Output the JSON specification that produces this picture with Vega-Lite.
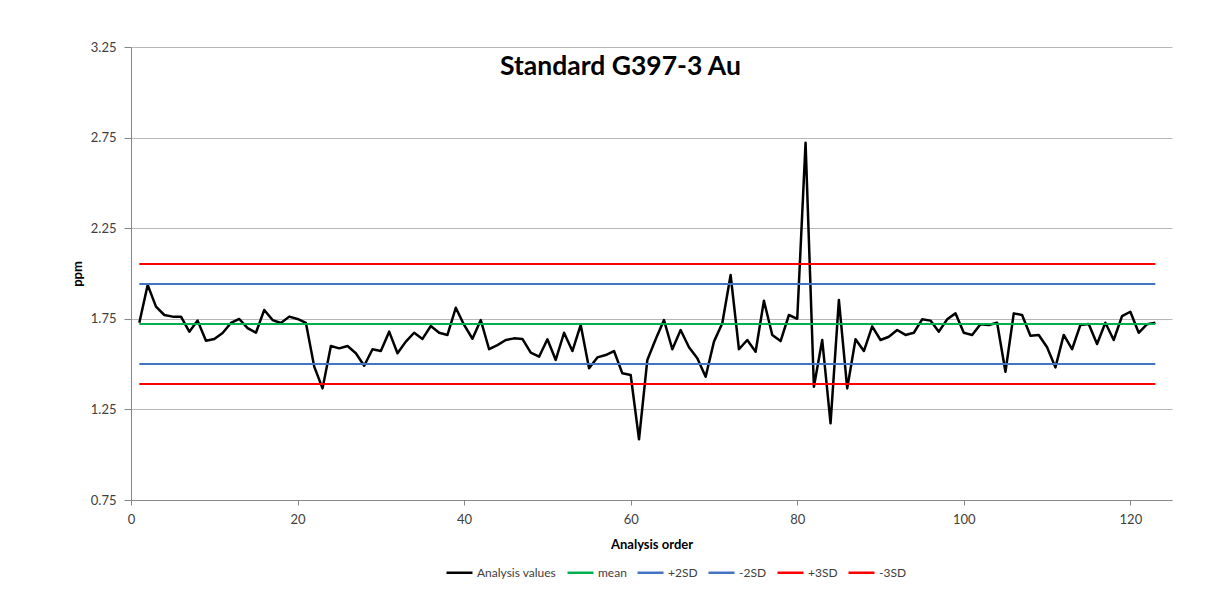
{
  "$schema": "https://vega.github.io/schema/vega-lite/v6.json",
  "width": 1041,
  "height": 453,
  "autosize": {"type": "none"},
  "padding": {"left": 131, "top": 47, "right": 43, "bottom": 96},
  "background": "white",
  "title": {
    "text": "Standard G397-3 Au",
    "anchor": "start",
    "frame": "group",
    "dx": 369,
    "dy": 27,
    "offset": -33,
    "baseline": "alphabetic",
    "font": "Lato",
    "fontSize": 26.5,
    "fontWeight": "bold",
    "color": "#000000"
  },
  "datasets": {
    "analysis": [
      {"order": 1, "ppm": 1.728, "series": "Analysis values"},
      {"order": 2, "ppm": 1.937, "series": "Analysis values"},
      {"order": 3, "ppm": 1.817, "series": "Analysis values"},
      {"order": 4, "ppm": 1.771, "series": "Analysis values"},
      {"order": 5, "ppm": 1.762, "series": "Analysis values"},
      {"order": 6, "ppm": 1.762, "series": "Analysis values"},
      {"order": 7, "ppm": 1.679, "series": "Analysis values"},
      {"order": 8, "ppm": 1.740, "series": "Analysis values"},
      {"order": 9, "ppm": 1.629, "series": "Analysis values"},
      {"order": 10, "ppm": 1.639, "series": "Analysis values"},
      {"order": 11, "ppm": 1.672, "series": "Analysis values"},
      {"order": 12, "ppm": 1.727, "series": "Analysis values"},
      {"order": 13, "ppm": 1.749, "series": "Analysis values"},
      {"order": 14, "ppm": 1.699, "series": "Analysis values"},
      {"order": 15, "ppm": 1.673, "series": "Analysis values"},
      {"order": 16, "ppm": 1.799, "series": "Analysis values"},
      {"order": 17, "ppm": 1.743, "series": "Analysis values"},
      {"order": 18, "ppm": 1.727, "series": "Analysis values"},
      {"order": 19, "ppm": 1.762, "series": "Analysis values"},
      {"order": 20, "ppm": 1.749, "series": "Analysis values"},
      {"order": 21, "ppm": 1.728, "series": "Analysis values"},
      {"order": 22, "ppm": 1.486, "series": "Analysis values"},
      {"order": 23, "ppm": 1.366, "series": "Analysis values"},
      {"order": 24, "ppm": 1.600, "series": "Analysis values"},
      {"order": 25, "ppm": 1.587, "series": "Analysis values"},
      {"order": 26, "ppm": 1.600, "series": "Analysis values"},
      {"order": 27, "ppm": 1.560, "series": "Analysis values"},
      {"order": 28, "ppm": 1.491, "series": "Analysis values"},
      {"order": 29, "ppm": 1.582, "series": "Analysis values"},
      {"order": 30, "ppm": 1.572, "series": "Analysis values"},
      {"order": 31, "ppm": 1.679, "series": "Analysis values"},
      {"order": 32, "ppm": 1.560, "series": "Analysis values"},
      {"order": 33, "ppm": 1.624, "series": "Analysis values"},
      {"order": 34, "ppm": 1.673, "series": "Analysis values"},
      {"order": 35, "ppm": 1.639, "series": "Analysis values"},
      {"order": 36, "ppm": 1.710, "series": "Analysis values"},
      {"order": 37, "ppm": 1.673, "series": "Analysis values"},
      {"order": 38, "ppm": 1.661, "series": "Analysis values"},
      {"order": 39, "ppm": 1.811, "series": "Analysis values"},
      {"order": 40, "ppm": 1.716, "series": "Analysis values"},
      {"order": 41, "ppm": 1.640, "series": "Analysis values"},
      {"order": 42, "ppm": 1.743, "series": "Analysis values"},
      {"order": 43, "ppm": 1.582, "series": "Analysis values"},
      {"order": 44, "ppm": 1.605, "series": "Analysis values"},
      {"order": 45, "ppm": 1.633, "series": "Analysis values"},
      {"order": 46, "ppm": 1.642, "series": "Analysis values"},
      {"order": 47, "ppm": 1.639, "series": "Analysis values"},
      {"order": 48, "ppm": 1.563, "series": "Analysis values"},
      {"order": 49, "ppm": 1.541, "series": "Analysis values"},
      {"order": 50, "ppm": 1.637, "series": "Analysis values"},
      {"order": 51, "ppm": 1.523, "series": "Analysis values"},
      {"order": 52, "ppm": 1.673, "series": "Analysis values"},
      {"order": 53, "ppm": 1.572, "series": "Analysis values"},
      {"order": 54, "ppm": 1.716, "series": "Analysis values"},
      {"order": 55, "ppm": 1.477, "series": "Analysis values"},
      {"order": 56, "ppm": 1.537, "series": "Analysis values"},
      {"order": 57, "ppm": 1.550, "series": "Analysis values"},
      {"order": 58, "ppm": 1.572, "series": "Analysis values"},
      {"order": 59, "ppm": 1.449, "series": "Analysis values"},
      {"order": 60, "ppm": 1.440, "series": "Analysis values"},
      {"order": 61, "ppm": 1.085, "series": "Analysis values"},
      {"order": 62, "ppm": 1.523, "series": "Analysis values"},
      {"order": 63, "ppm": 1.637, "series": "Analysis values"},
      {"order": 64, "ppm": 1.743, "series": "Analysis values"},
      {"order": 65, "ppm": 1.582, "series": "Analysis values"},
      {"order": 66, "ppm": 1.688, "series": "Analysis values"},
      {"order": 67, "ppm": 1.593, "series": "Analysis values"},
      {"order": 68, "ppm": 1.532, "series": "Analysis values"},
      {"order": 69, "ppm": 1.430, "series": "Analysis values"},
      {"order": 70, "ppm": 1.624, "series": "Analysis values"},
      {"order": 71, "ppm": 1.725, "series": "Analysis values"},
      {"order": 72, "ppm": 1.992, "series": "Analysis values"},
      {"order": 73, "ppm": 1.582, "series": "Analysis values"},
      {"order": 74, "ppm": 1.633, "series": "Analysis values"},
      {"order": 75, "ppm": 1.568, "series": "Analysis values"},
      {"order": 76, "ppm": 1.850, "series": "Analysis values"},
      {"order": 77, "ppm": 1.661, "series": "Analysis values"},
      {"order": 78, "ppm": 1.627, "series": "Analysis values"},
      {"order": 79, "ppm": 1.771, "series": "Analysis values"},
      {"order": 80, "ppm": 1.750, "series": "Analysis values"},
      {"order": 81, "ppm": 2.722, "series": "Analysis values"},
      {"order": 82, "ppm": 1.375, "series": "Analysis values"},
      {"order": 83, "ppm": 1.633, "series": "Analysis values"},
      {"order": 84, "ppm": 1.173, "series": "Analysis values"},
      {"order": 85, "ppm": 1.854, "series": "Analysis values"},
      {"order": 86, "ppm": 1.366, "series": "Analysis values"},
      {"order": 87, "ppm": 1.637, "series": "Analysis values"},
      {"order": 88, "ppm": 1.572, "series": "Analysis values"},
      {"order": 89, "ppm": 1.708, "series": "Analysis values"},
      {"order": 90, "ppm": 1.633, "series": "Analysis values"},
      {"order": 91, "ppm": 1.651, "series": "Analysis values"},
      {"order": 92, "ppm": 1.688, "series": "Analysis values"},
      {"order": 93, "ppm": 1.661, "series": "Analysis values"},
      {"order": 94, "ppm": 1.673, "series": "Analysis values"},
      {"order": 95, "ppm": 1.747, "series": "Analysis values"},
      {"order": 96, "ppm": 1.740, "series": "Analysis values"},
      {"order": 97, "ppm": 1.679, "series": "Analysis values"},
      {"order": 98, "ppm": 1.747, "series": "Analysis values"},
      {"order": 99, "ppm": 1.780, "series": "Analysis values"},
      {"order": 100, "ppm": 1.673, "series": "Analysis values"},
      {"order": 101, "ppm": 1.661, "series": "Analysis values"},
      {"order": 102, "ppm": 1.720, "series": "Analysis values"},
      {"order": 103, "ppm": 1.716, "series": "Analysis values"},
      {"order": 104, "ppm": 1.728, "series": "Analysis values"},
      {"order": 105, "ppm": 1.458, "series": "Analysis values"},
      {"order": 106, "ppm": 1.780, "series": "Analysis values"},
      {"order": 107, "ppm": 1.771, "series": "Analysis values"},
      {"order": 108, "ppm": 1.656, "series": "Analysis values"},
      {"order": 109, "ppm": 1.661, "series": "Analysis values"},
      {"order": 110, "ppm": 1.593, "series": "Analysis values"},
      {"order": 111, "ppm": 1.482, "series": "Analysis values"},
      {"order": 112, "ppm": 1.661, "series": "Analysis values"},
      {"order": 113, "ppm": 1.582, "series": "Analysis values"},
      {"order": 114, "ppm": 1.716, "series": "Analysis values"},
      {"order": 115, "ppm": 1.721, "series": "Analysis values"},
      {"order": 116, "ppm": 1.611, "series": "Analysis values"},
      {"order": 117, "ppm": 1.728, "series": "Analysis values"},
      {"order": 118, "ppm": 1.633, "series": "Analysis values"},
      {"order": 119, "ppm": 1.765, "series": "Analysis values"},
      {"order": 120, "ppm": 1.789, "series": "Analysis values"},
      {"order": 121, "ppm": 1.673, "series": "Analysis values"},
      {"order": 122, "ppm": 1.720, "series": "Analysis values"},
      {"order": 123, "ppm": 1.728, "series": "Analysis values"}
    ],
    "limits": [
      {"order": 1, "ppm": 1.721, "series": "mean"},
      {"order": 123, "ppm": 1.721, "series": "mean"},
      {"order": 1, "ppm": 1.942, "series": "+2SD"},
      {"order": 123, "ppm": 1.942, "series": "+2SD"},
      {"order": 1, "ppm": 1.500, "series": "-2SD"},
      {"order": 123, "ppm": 1.500, "series": "-2SD"},
      {"order": 1, "ppm": 2.052, "series": "+3SD"},
      {"order": 123, "ppm": 2.052, "series": "+3SD"},
      {"order": 1, "ppm": 1.390, "series": "-3SD"},
      {"order": 123, "ppm": 1.390, "series": "-3SD"}
    ]
  },
  "encoding": {
    "x": {
      "field": "order",
      "type": "quantitative",
      "scale": {"domain": [0, 125], "nice": false, "zero": false},
      "axis": {
        "title": "Analysis order",
        "values": [0, 20, 40, 60, 80, 100, 120],
        "format": "d",
        "grid": false,
        "labelFlush": false,
        "tickSize": 5,
        "labelPadding": 8,
        "titlePadding": 12
      }
    },
    "y": {
      "field": "ppm",
      "type": "quantitative",
      "scale": {"domain": [0.75, 3.25], "nice": false, "zero": false},
      "axis": {
        "title": "ppm",
        "values": [0.75, 1.25, 1.75, 2.25, 2.75, 3.25],
        "format": ".2f",
        "grid": true,
        "labelFlush": false,
        "tickSize": 7,
        "labelPadding": 8,
        "titlePadding": 6
      }
    },
    "color": {
      "field": "series",
      "type": "nominal",
      "scale": {
        "domain": ["Analysis values", "mean", "+2SD", "-2SD", "+3SD", "-3SD"],
        "range": ["#000000", "#00b050", "#4472c4", "#4472c4", "#ff0000", "#ff0000"]
      },
      "legend": {
        "title": null,
        "orient": "none",
        "direction": "horizontal",
        "legendX": 314,
        "legendY": 511,
        "symbolType": "stroke",
        "symbolSize": 676,
        "symbolStrokeWidth": 2.5,
        "labelOffset": 3,
        "columnPadding": 5
      }
    }
  },
  "layer": [
    {
      "data": {"name": "analysis"},
      "mark": {"type": "line", "strokeWidth": 2.5, "strokeJoin": "round"}
    },
    {
      "data": {"name": "limits"},
      "mark": {"type": "line", "strokeWidth": 2}
    }
  ],
  "config": {
    "view": {"stroke": null},
    "font": "Lato",
    "axis": {
      "labelFont": "Lato",
      "labelFontSize": 13,
      "labelColor": "#404040",
      "titleFont": "Lato",
      "titleFontSize": 13,
      "titleFontWeight": "bold",
      "titleColor": "#000000",
      "domainColor": "#868686",
      "tickColor": "#868686",
      "gridColor": "#b7b7b7",
      "gridWidth": 1
    },
    "legend": {
      "labelFont": "Lato",
      "labelFontSize": 12,
      "labelColor": "#404040"
    }
  }
}
